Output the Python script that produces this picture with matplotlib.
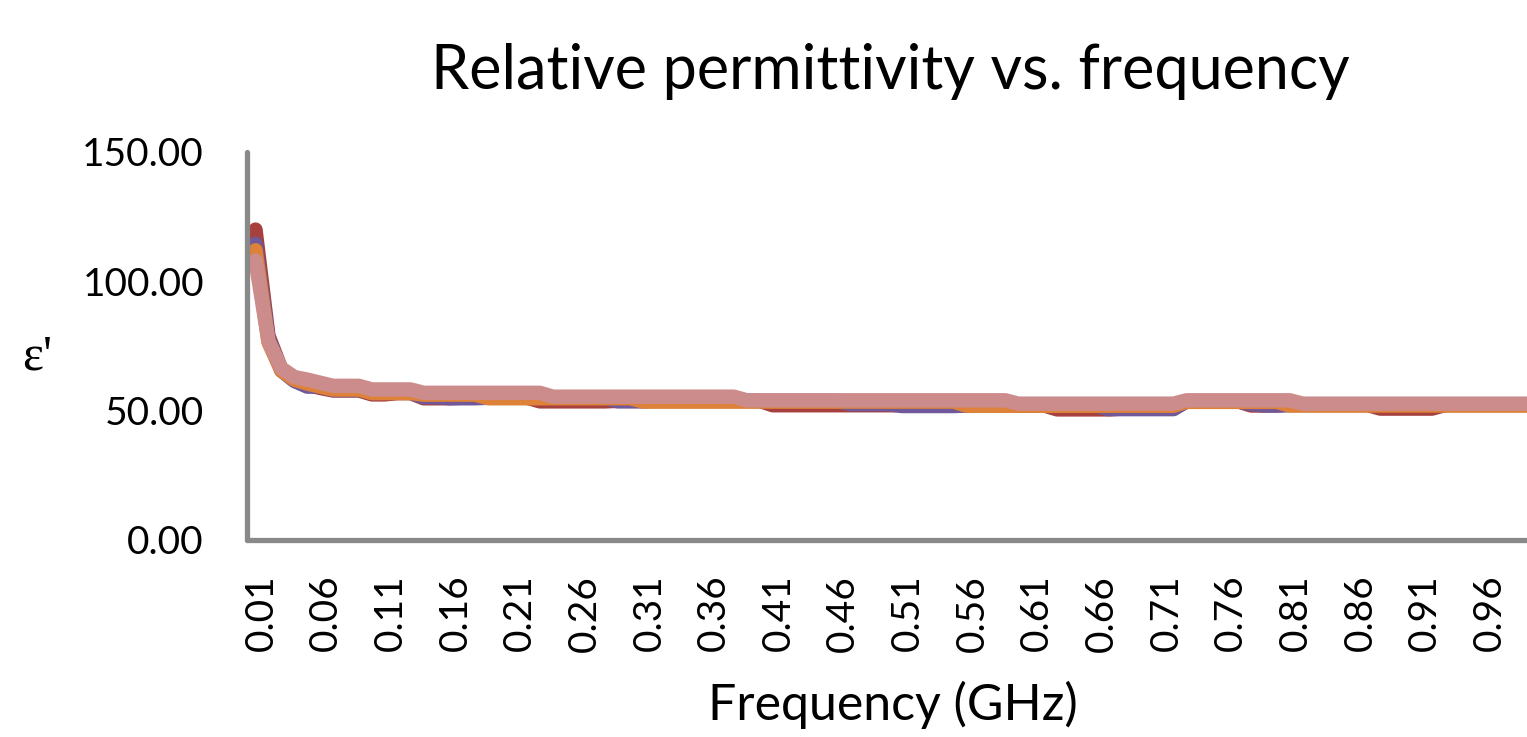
import matplotlib
matplotlib.use("Agg")
import matplotlib.pyplot as plt
import matplotlib.transforms as mtransforms

# categories (GHz)
freq = [0.01, 0.02, 0.03, 0.04, 0.05, 0.06, 0.07, 0.08, 0.09, 0.10,
        0.11, 0.12, 0.13, 0.14, 0.15, 0.16, 0.17, 0.18, 0.19, 0.20,
        0.21, 0.22, 0.23, 0.24, 0.25, 0.26, 0.27, 0.28, 0.29, 0.30,
        0.31, 0.32, 0.33, 0.34, 0.35, 0.36, 0.37, 0.38, 0.39, 0.40,
        0.41, 0.42, 0.43, 0.44, 0.45, 0.46, 0.47, 0.48, 0.49, 0.50,
        0.51, 0.52, 0.53, 0.54, 0.55, 0.56, 0.57, 0.58, 0.59, 0.60,
        0.61, 0.62, 0.63, 0.64, 0.65, 0.66, 0.67, 0.68, 0.69, 0.70,
        0.71, 0.72, 0.73, 0.74, 0.75, 0.76, 0.77, 0.78, 0.79, 0.80,
        0.81, 0.82, 0.83, 0.84, 0.85, 0.86, 0.87, 0.88, 0.89, 0.90,
        0.91, 0.92, 0.93, 0.94, 0.95, 0.96, 0.97, 0.98, 0.99, 1.00]

s_red = [120.0, 79.0, 66.0, 62.0, 60.0, 58.8, 57.8, 57.8, 57.8, 56.3,
         56.3, 56.8, 56.8, 54.8, 54.8, 54.8, 55.0, 55.0, 55.0, 55.0,
         55.0, 55.0, 53.6, 53.6, 53.6, 53.6, 53.6, 53.6, 53.8, 53.8,
         53.8, 53.8, 53.8, 53.8, 53.8, 53.8, 53.8, 53.8, 53.8, 53.8,
         52.1, 52.1, 52.1, 52.1, 52.1, 52.1, 52.1, 52.1, 52.1, 52.1,
         52.1, 52.1, 52.1, 52.1, 52.1, 52.0, 52.0, 52.0, 52.0, 52.0,
         52.0, 52.0, 50.5, 50.5, 50.5, 50.5, 50.5, 50.8, 50.8, 50.8,
         50.8, 50.8, 53.6, 53.6, 53.6, 53.6, 53.6, 52.0, 52.0, 52.0,
         52.2, 52.2, 52.2, 52.2, 52.2, 52.2, 52.2, 50.8, 50.8, 50.8,
         50.8, 50.8, 52.2, 52.2, 52.2, 52.2, 52.2, 52.2, 52.2, 52.2]

s_purple = [114.5, 78.0, 65.5, 61.5, 59.3, 59.3, 58.0, 58.0, 58.0, 56.9,
            56.9, 56.9, 56.9, 55.2, 55.2, 54.8, 54.8, 54.8, 55.0, 55.0,
            55.0, 55.0, 55.0, 55.0, 55.0, 55.0, 55.0, 55.0, 53.6, 53.6,
            53.6, 53.8, 53.8, 53.8, 53.8, 53.8, 53.8, 53.8, 53.8, 53.8,
            53.8, 53.8, 53.8, 53.8, 53.8, 53.8, 52.5, 52.5, 52.5, 52.5,
            51.8, 51.8, 51.8, 51.8, 51.8, 52.0, 52.0, 52.0, 52.0, 52.0,
            52.0, 52.0, 52.0, 52.0, 52.0, 52.0, 50.6, 50.6, 50.6, 50.6,
            50.6, 50.6, 53.6, 53.6, 53.6, 53.6, 53.6, 52.5, 52.0, 52.0,
            52.2, 52.2, 52.2, 52.2, 52.2, 52.2, 52.2, 52.2, 52.2, 52.2,
            52.2, 52.2, 52.2, 52.2, 52.2, 52.2, 52.2, 52.2, 52.2, 52.2]

s_orange = [112.0, 76.5, 65.5, 62.0, 60.5, 59.3, 58.2, 58.2, 58.2, 56.8,
            56.8, 56.8, 56.8, 56.2, 56.2, 56.2, 56.2, 56.2, 54.8, 54.8,
            54.8, 54.8, 54.8, 54.8, 54.8, 54.8, 54.8, 54.8, 54.8, 54.8,
            53.5, 53.5, 53.5, 53.5, 53.5, 53.5, 53.5, 53.5, 53.5, 53.5,
            53.5, 53.5, 53.5, 53.5, 53.5, 53.5, 53.5, 53.5, 53.5, 53.5,
            53.5, 53.5, 53.5, 53.5, 53.5, 51.9, 51.9, 51.9, 51.9, 51.9,
            51.9, 51.9, 51.9, 51.9, 51.9, 51.9, 51.9, 51.9, 51.9, 51.9,
            51.9, 51.9, 53.4, 53.4, 53.4, 53.4, 53.4, 53.4, 53.4, 53.4,
            52.0, 52.0, 52.0, 52.0, 52.0, 52.0, 52.0, 52.0, 52.0, 52.0,
            52.0, 52.0, 52.0, 52.0, 52.0, 52.0, 52.0, 52.0, 52.0, 52.0]

s_pink = [108.0, 77.0, 66.4, 63.0, 62.0, 60.8, 59.6, 59.6, 59.6, 58.2,
          58.2, 58.2, 58.2, 56.9, 56.9, 56.9, 56.9, 56.9, 56.9, 56.9,
          56.9, 56.9, 56.9, 55.4, 55.4, 55.4, 55.4, 55.4, 55.4, 55.4,
          55.4, 55.4, 55.4, 55.4, 55.4, 55.4, 55.4, 55.4, 54.0, 54.0,
          54.0, 54.0, 54.0, 54.0, 54.0, 54.0, 54.0, 54.0, 54.0, 54.0,
          54.0, 54.0, 54.0, 54.0, 54.0, 54.0, 54.0, 54.0, 54.0, 52.7,
          52.7, 52.7, 52.7, 52.7, 52.7, 52.7, 52.7, 52.7, 52.7, 52.7,
          52.7, 52.7, 54.0, 54.0, 54.0, 54.0, 54.0, 54.0, 54.0, 54.0,
          54.0, 52.7, 52.7, 52.7, 52.7, 52.7, 52.7, 52.7, 52.7, 52.7,
          52.7, 52.7, 52.7, 52.7, 52.7, 52.7, 52.7, 52.7, 52.7, 52.7]

series = [
    (s_red, '#a6403e'),
    (s_purple, '#70589a'),
    (s_orange, '#dd8238'),
    (s_pink, '#cd8c8c'),
]

W, H = 1527, 737
fig = plt.figure(figsize=(W / 100, H / 100), dpi=100)
ax = fig.add_axes([247 / W, 1 - 540 / H, 1 - 247 / W, (540 - 152) / H])

x = list(range(len(freq)))
for vals, col in series:
    ax.plot(x, vals, color=col, lw=10.4, solid_joinstyle='round',
            solid_capstyle='round')

ax.set_ylim(0, 150)
ax.set_xlim(-0.657, 98.34)
ax.set_yticks([0, 50, 100, 150])
ax.set_yticklabels([f'{v:.2f}' for v in [0, 50, 100, 150]],
                   family='Lato', fontsize=28)
xt = x[::5]
ax.set_xticks(xt)
ax.set_xticklabels([f'{freq[i]:.2f}' for i in xt], rotation=90,
                   family='Lato', fontsize=28)
ax.tick_params(axis='y', length=0, pad=31)
ax.tick_params(axis='x', length=0, pad=25)
off = mtransforms.ScaledTranslation(6 / 100, 0, fig.dpi_scale_trans)
for lab in ax.get_xticklabels():
    lab.set_transform(lab.get_transform() + off)

for side in ['top', 'right']:
    ax.spines[side].set_visible(False)
for side in ['left', 'bottom']:
    ax.spines[side].set_color('#898989')
    ax.spines[side].set_linewidth(3.8)
    ax.spines[side].set_capstyle('round')

fig.text(890 / W, 1 - 72 / H, 'Relative permittivity vs. frequency',
         ha='center', va='center', family='Lato', fontsize=44)
fig.text(893 / W, 1 - 705 / H, 'Frequency (GHz)', ha='center', va='center',
         family='Lato', fontsize=36)
fig.text(37 / W, 1 - 357 / H, "\u03b5'", ha='center', va='center',
         family='Liberation Serif', fontsize=36)

fig.savefig('out.png', dpi=100)
